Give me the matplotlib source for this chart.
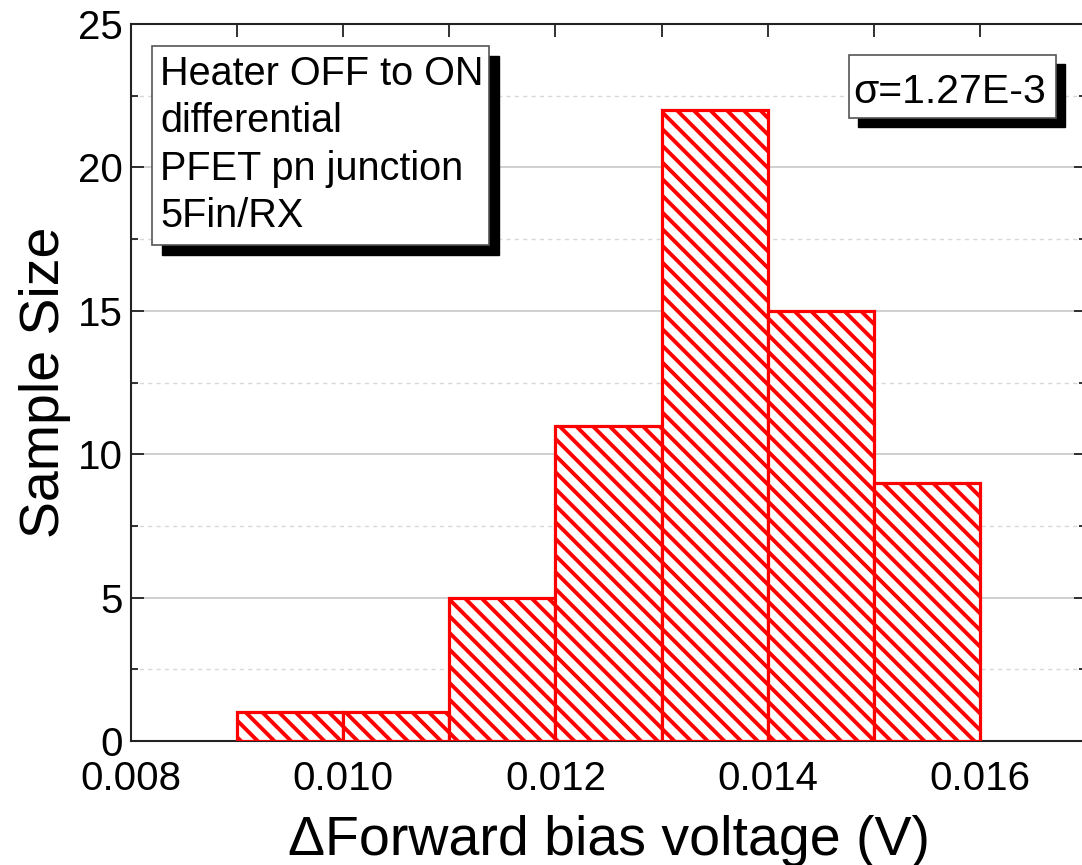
import matplotlib
matplotlib.use("Agg")
import matplotlib.pyplot as plt
import numpy as np
from matplotlib.patches import Rectangle
from matplotlib.ticker import MultipleLocator

plt.rcParams['font.family'] = ['Liberation Sans', 'DejaVu Sans']
plt.rcParams['hatch.linewidth'] = 2.8
plt.rcParams['hatch.color'] = 'red'

# histogram data
bin_edges = [0.009, 0.010, 0.011, 0.012, 0.013, 0.014, 0.015, 0.016]
counts = [1, 1, 5, 11, 22, 15, 9]
x_ticks = [0.008, 0.010, 0.012, 0.014, 0.016]
x_tick_labels = ["0.008", "0.010", "0.012", "0.014", "0.016"]
y_ticks = [0, 5, 10, 15, 20, 25]
info_lines = ["Heater OFF to ON", "differential", "PFET pn junction", "5Fin/RX"]
sigma_text = "\u03c3=1.27E-3"

W, H = 1082, 865
fig = plt.figure(figsize=(W / 100, H / 100), dpi=100)

# axes placement in pixels
px_left, px_right, px_top, px_bottom = 131, 1086, 24, 741
ax = fig.add_axes([px_left / W, 1 - px_bottom / H,
                   (px_right - px_left) / W, (px_bottom - px_top) / H])

edges = np.array(bin_edges)
ax.bar(edges[:-1], counts, width=np.diff(edges), align='edge',
       facecolor='white', edgecolor='red', hatch='\\\\', linewidth=2.3, zorder=3)

ax.set_xlim(0.008, 0.017)
ax.set_ylim(0, 25)
ax.set_xticks(x_ticks)
ax.set_xticklabels(x_tick_labels)
ax.set_yticks(y_ticks)
ax.xaxis.set_minor_locator(MultipleLocator(0.001))
ax.yaxis.set_minor_locator(MultipleLocator(2.5))

ax.tick_params(which='both', direction='in', top=True, right=True,
               labelsize=29, width=1.3, colors='#222222', labelcolor='black')
ax.tick_params(which='major', length=9)
ax.tick_params(axis='x', which='major', pad=14)
ax.tick_params(axis='y', which='major', pad=6)
ax.tick_params(which='minor', length=5)
ax.tick_params(axis='x', which='minor', length=9)

ax.grid(True, axis='y', which='major', color='#c8c8c8', linewidth=1.2, zorder=0)
ax.grid(True, axis='y', which='minor', color='#d8d8d8', linewidth=1.0,
        linestyle=(0, (3, 3)), zorder=0)
ax.set_axisbelow(True)
for sp in ax.spines.values():
    sp.set_linewidth(1.5)
    sp.set_color('#222222')

ax.set_xlabel("\u0394Forward bias voltage (V)", fontsize=40, labelpad=12)
ax.set_ylabel("Sample Size", fontsize=40, labelpad=5)


def px_box(x0, y0, x1, y1, shadow=10):
    # white box with black drop shadow, given in figure pixels
    fig.patches.append(Rectangle((x0 + shadow, H - y1 - shadow), x1 - x0, y1 - y0,
                                 transform=None, facecolor='black', edgecolor='black',
                                 zorder=5))
    fig.patches.append(Rectangle((x0, H - y1), x1 - x0, y1 - y0,
                                 transform=None, facecolor='white', edgecolor='#555555',
                                 linewidth=1.2, zorder=6))


px_box(152, 46, 489, 245)
for i, line in enumerate(info_lines):
    fig.text(160 / W, 1 - (85 + 47.3 * i) / H, line, fontsize=28.5,
             ha='left', va='baseline', zorder=7)

px_box(849, 55, 1056, 118, shadow=9)
fig.text(853 / W, 1 - 103 / H, sigma_text, fontsize=29.5,
         ha='left', va='baseline', zorder=7)

fig.savefig("out.png", dpi=100)
